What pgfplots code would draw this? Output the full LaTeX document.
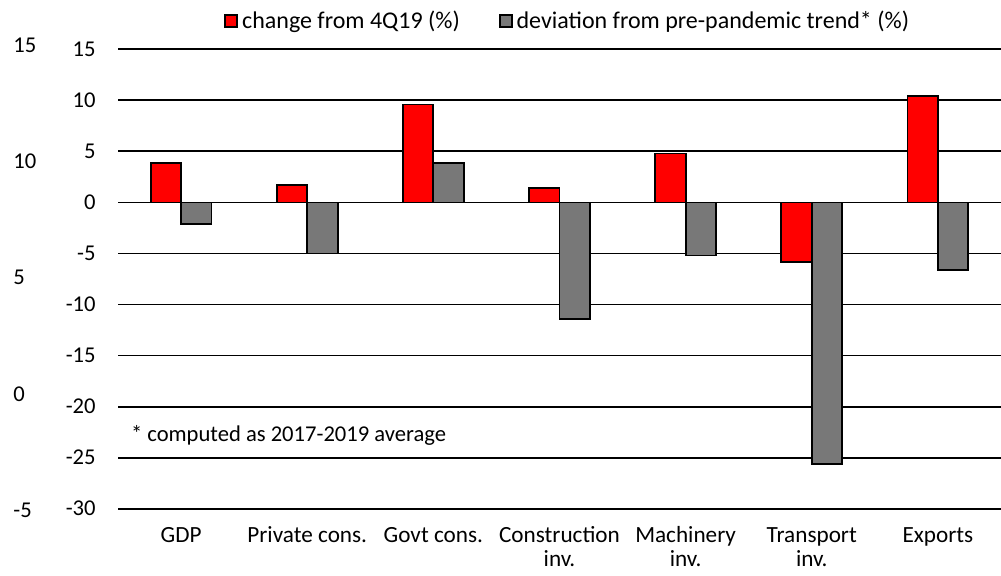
\documentclass[border=0pt]{standalone}
\usepackage{fontspec}
\setmainfont{Carlito}
\usepackage{pgfplots}
\pgfplotsset{compat=1.18}
\definecolor{barred}{HTML}{FF0000}
\definecolor{bargray}{HTML}{787878}
\begin{document}
\begin{tikzpicture}
\path[use as bounding box] (0,0) rectangle (500.5pt,287.5pt);
% outer (secondary) scale on the far left
\begin{axis}[
  at={(6.5pt,32.5pt)}, anchor=south west, scale only axis,
  width=1pt, height=232.5pt,
  xmin=0, xmax=1, ymin=-5, ymax=15,
  ytick={-5,0,5,10,15}, yticklabels={-5,0,5,10,15},
  hide x axis, axis y line=left, y axis line style={draw=none},
  major tick length=0pt,
  yticklabel style={anchor=west, inner sep=0pt, font=\fontsize{11.3}{13}\selectfont},
]
\addplot[draw=none] coordinates {(0,0)};
\end{axis}
% main chart
\begin{axis}[
  at={(59pt,33.15pt)}, anchor=south west, scale only axis,
  width=441.5pt, height=229.7pt,
  ymin=-30, ymax=15,
  ytick={-30,-25,-20,-15,-10,-5,0,5,10,15},
  yticklabels={-30,-25,-20,-15,-10,-5,0,5,10,15},
  xmin=-0.5, xmax=6.5, xtick={0,1,2,3,4,5,6},
  xticklabels={{\strut GDP},{\strut Private cons.},{\strut Govt cons.},{\strut Construction\\inv.},{\strut Machinery\\inv.},{\strut Transport\\inv.},{\strut Exports}},
  axis line style={draw=none},
  major tick length=0pt,
  ymajorgrids, grid style={black, line width=0.9pt},
  yticklabel style={anchor=east, inner sep=0pt, xshift=-11pt, font=\fontsize{11.3}{13}\selectfont},
  xticklabel style={align=center, anchor=north, inner sep=0pt, yshift=-8pt, font=\fontsize{11.6}{12.2}\selectfont},
  ybar=0pt, bar width=15.2pt,
  legend columns=2,
  legend style={at={(axis description cs:0.1200,1)}, anchor=west, yshift=14pt, draw=none, fill=none,
    inner sep=0pt, font=\fontsize{12}{14}\selectfont,
    /tikz/every even column/.append style={column sep=17.5pt}},
  legend image code/.code={\draw[#1, line width=0.9pt] (0pt,-3pt) rectangle (6pt,3pt);},
  clip=false,
]
\addplot[fill=barred, draw=black, line width=0.9pt] coordinates {(0,3.9) (1,1.7) (2,9.6) (3,1.4) (4,4.8) (5,-5.8) (6,10.4)};
\addlegendentry{change from 4Q19 (\%)}
\addplot[fill=bargray, draw=black, line width=0.9pt] coordinates {(0,-2.1) (1,-5.0) (2,3.9) (3,-11.4) (4,-5.2) (5,-25.6) (6,-6.6)};
\addlegendentry{deviation from pre-pandemic trend* (\%)}
\node[anchor=west, inner sep=0pt, font=\fontsize{11.3}{13}\selectfont] at (axis cs:-0.40,-22.8) {* computed as 2017-2019 average};
\end{axis}
\end{tikzpicture}
\end{document}
